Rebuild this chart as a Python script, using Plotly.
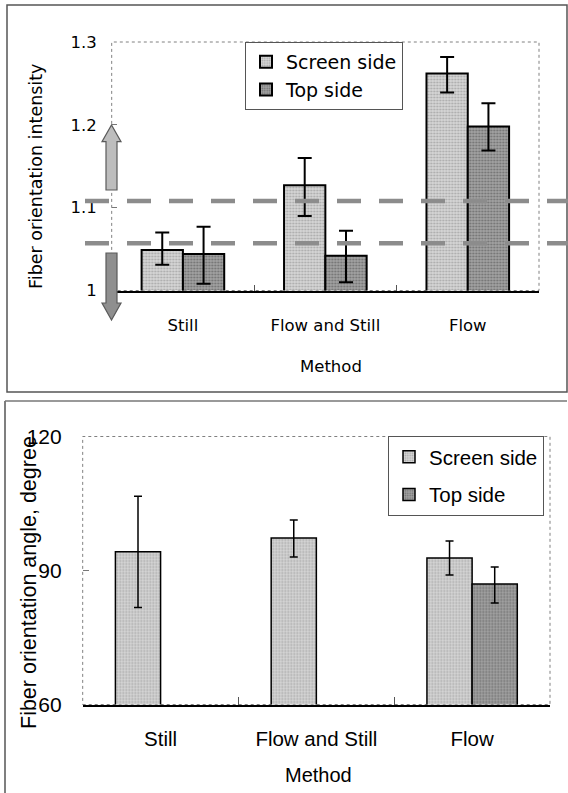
import plotly.graph_objects as go

W, H = 568, 793

# ---------------- data ----------------
methods = ["Still", "Flow and Still", "Flow"]
series_names = ["Screen side", "Top side"]

# Fiber orientation intensity (top panel)
intensity_screen = [1.049, 1.127, 1.262]
intensity_screen_hi = [1.070, 1.160, 1.282]
intensity_screen_lo = [1.031, 1.090, 1.239]
intensity_top = [1.044, 1.042, 1.198]
intensity_top_hi = [1.077, 1.072, 1.226]
intensity_top_lo = [1.008, 1.010, 1.169]
intensity_bands = [1.108, 1.057]
intensity_ticks = [1, 1.1, 1.2, 1.3]
intensity_ticktext = ["1", "1.1", "1.2", "1.3"]

# Fiber orientation angle, degree (bottom panel)
angle_screen = [94.2, 97.3, 92.8]
angle_screen_hi = [106.6, 101.3, 96.6]
angle_screen_lo = [81.7, 93.0, 89.0]
angle_top = [None, None, 87.0]
angle_top_hi = [None, None, 90.8]
angle_top_lo = [None, None, 82.7]
angle_ticks = [60, 90, 120]
angle_ticktext = ["60", "90", "120"]


def plus(v, hi):
    return [None if a is None else b - a for a, b in zip(v, hi)]


def minus(v, lo):
    return [None if a is None else a - b for a, b in zip(v, lo)]


def px(x):
    return x / W


def py(y):
    return 1 - y / H


def path(points):
    return "M " + " L ".join(f"{px(x):.5f},{py(y):.5f}" for x, y in points) + " Z"


TOPFONT = "DejaVu Sans"
BOTFONT = "Liberation Sans, Arial"

screen_pat = dict(shape=".", fgcolor="#7a7a7a", bgcolor="#d6d6d6", size=3, solidity=0.35)
top_pat = dict(shape=".", fgcolor="#3c3c3c", bgcolor="#a2a2a2", size=3, solidity=0.35)

fig = go.Figure()

# top panel bars
fig.add_trace(go.Bar(
    x=methods, y=intensity_screen, name=series_names[0], xaxis="x", yaxis="y",
    marker=dict(pattern=screen_pat, line=dict(color="black", width=2)),
    error_y=dict(type="data", symmetric=False,
                 array=plus(intensity_screen, intensity_screen_hi),
                 arrayminus=minus(intensity_screen, intensity_screen_lo),
                 color="black", thickness=2, width=7),
    legend="legend",
))
fig.add_trace(go.Bar(
    x=methods, y=intensity_top, name=series_names[1], xaxis="x", yaxis="y",
    marker=dict(pattern=top_pat, line=dict(color="black", width=2)),
    error_y=dict(type="data", symmetric=False,
                 array=plus(intensity_top, intensity_top_hi),
                 arrayminus=minus(intensity_top, intensity_top_lo),
                 color="black", thickness=2, width=7),
    legend="legend",
))

# bottom panel bars
fig.add_trace(go.Bar(
    x=methods, y=angle_screen, name=series_names[0], xaxis="x2", yaxis="y2",
    marker=dict(pattern=screen_pat, line=dict(color="black", width=1.5)),
    error_y=dict(type="data", symmetric=False,
                 array=plus(angle_screen, angle_screen_hi),
                 arrayminus=minus(angle_screen, angle_screen_lo),
                 color="black", thickness=1.5, width=4),
    legend="legend2", legendgroup="a2",
))
fig.add_trace(go.Bar(
    x=methods, y=angle_top, name=series_names[1], xaxis="x2", yaxis="y2",
    marker=dict(pattern=top_pat, line=dict(color="black", width=1.5)),
    error_y=dict(type="data", symmetric=False,
                 array=plus(angle_top, angle_top_hi),
                 arrayminus=minus(angle_top, angle_top_lo),
                 color="black", thickness=1.5, width=4),
    legend="legend2", legendgroup="b2",
))

top_x = [px(111.7), px(539)]
top_y = [py(290.5), py(42)]
bot_x = [px(82.7), px(550)]
bot_y = [py(704.5), py(436.5)]

shapes = []
# panel frames
shapes.append(dict(type="rect", xref="paper", yref="paper", x0=px(7), x1=px(567), y0=py(392), y1=py(5),
                   line=dict(color="#555", width=1.5), layer="below"))
shapes.append(dict(type="line", xref="paper", yref="paper", x0=px(5), x1=px(5), y0=py(401), y1=py(800),
                   line=dict(color="#555", width=1.5)))
shapes.append(dict(type="line", xref="paper", yref="paper", x0=px(5), x1=px(567), y0=py(401), y1=py(401),
                   line=dict(color="#777", width=1.5)))
# plot area dotted borders
for xr, yr in (("x", "y"), ("x2", "y2")):
    shapes.append(dict(type="rect", xref=f"{xr} domain", yref=f"{yr} domain", x0=0, x1=1, y0=0, y1=1,
                       line=dict(color="#808080", width=1, dash="dot"), layer="below"))
# dashed reference bands (top panel)
for v in intensity_bands:
    shapes.append(dict(type="line", xref="paper", yref="y", x0=px(85), x1=1, y0=v, y1=v,
                       line=dict(color="#8c8c8c", width=4.5, dash="24px,18px"), layer="above"))
# arrows at left axis of top panel
up = [(106, 190), (106, 141.7), (102, 141.7), (111.5, 125), (121, 141.7), (117, 141.7), (117, 190)]
down = [(106, 253), (117, 253), (117, 303), (121, 303), (111.5, 320), (102, 303), (106, 303)]
shapes.append(dict(type="path", xref="paper", yref="paper", path=path(up),
                   fillcolor="#bdbdbd", line=dict(color="#5a5a5a", width=1.2)))
shapes.append(dict(type="path", xref="paper", yref="paper", path=path(down),
                   fillcolor="#8f8f8f", line=dict(color="#5a5a5a", width=1.2)))

annotations = [
    dict(text="Fiber orientation intensity", xref="paper", yref="paper", x=px(36.5), y=py(176.5),
         textangle=-90, showarrow=False, font=dict(family=TOPFONT, size=17.5, color="black"),
         xanchor="center", yanchor="middle"),
    dict(text="Method", xref="paper", yref="paper", x=px(331), y=py(367),
         showarrow=False, font=dict(family=TOPFONT, size=16.5, color="black"),
         xanchor="center", yanchor="middle"),
    dict(text="Fiber orientation angle, degree", xref="paper", yref="paper", x=px(29), y=py(583),
         textangle=-90, showarrow=False, font=dict(family=BOTFONT, size=21.5, color="black"),
         xanchor="center", yanchor="middle"),
    dict(text="Method", xref="paper", yref="paper", x=px(318), y=py(775),
         showarrow=False, font=dict(family=BOTFONT, size=20, color="black"),
         xanchor="center", yanchor="middle"),
]

fig.update_layout(
    width=W, height=H,
    margin=dict(l=0, r=0, t=0, b=0, autoexpand=False),
    paper_bgcolor="white", plot_bgcolor="white",
    barmode="group", bargap=0.42, bargroupgap=0,
    showlegend=True,
    xaxis=dict(domain=top_x, anchor="y", type="category", categoryorder="array", categoryarray=methods,
               showline=True, linecolor="black", linewidth=1.5, mirror=False, automargin=False,
               ticks="inside", tickson="boundaries", ticklen=6, tickcolor="#555",
               ticklabelstandoff=19, showgrid=False, zeroline=False,
               tickfont=dict(family=TOPFONT, size=16.5, color="black")),
    yaxis=dict(domain=top_y, anchor="x", range=[1, 1.3], tickvals=intensity_ticks, ticktext=intensity_ticktext,
               showline=False, ticks="inside", ticklen=5, tickcolor="#777", showgrid=False, zeroline=False,
               automargin=False,
               ticklabelstandoff=14, tickfont=dict(family=TOPFONT, size=16.5, color="black")),
    xaxis2=dict(domain=bot_x, anchor="y2", type="category", categoryorder="array", categoryarray=methods,
                showline=True, linecolor="black", linewidth=1.5, mirror=False, automargin=False,
                ticks="inside", tickson="boundaries", ticklen=8, tickcolor="#555",
                ticklabelstandoff=15, showgrid=False, zeroline=False,
                tickfont=dict(family=BOTFONT, size=20.5, color="black")),
    yaxis2=dict(domain=bot_y, anchor="x2", range=[60, 120], tickvals=angle_ticks, ticktext=angle_ticktext,
                showline=False, ticks="inside", ticklen=6, tickcolor="#777", showgrid=False, zeroline=False,
                automargin=False,
                ticklabelstandoff=20, tickfont=dict(family=BOTFONT, size=21, color="black")),
    legend=dict(x=px(245), y=py(42), xanchor="left", yanchor="top", bgcolor="white",
                bordercolor="#555", borderwidth=1, font=dict(family=TOPFONT, size=19, color="black"),
                itemclick=False, traceorder="normal"),
    legend2=dict(x=px(388), y=py(436), xanchor="left", yanchor="top", bgcolor="white",
                 bordercolor="#555", borderwidth=1, font=dict(family=BOTFONT, size=20.5, color="black"),
                 tracegroupgap=8, traceorder="grouped", itemclick=False),
    shapes=shapes,
    annotations=annotations,
)

fig.write_html("out.html")
